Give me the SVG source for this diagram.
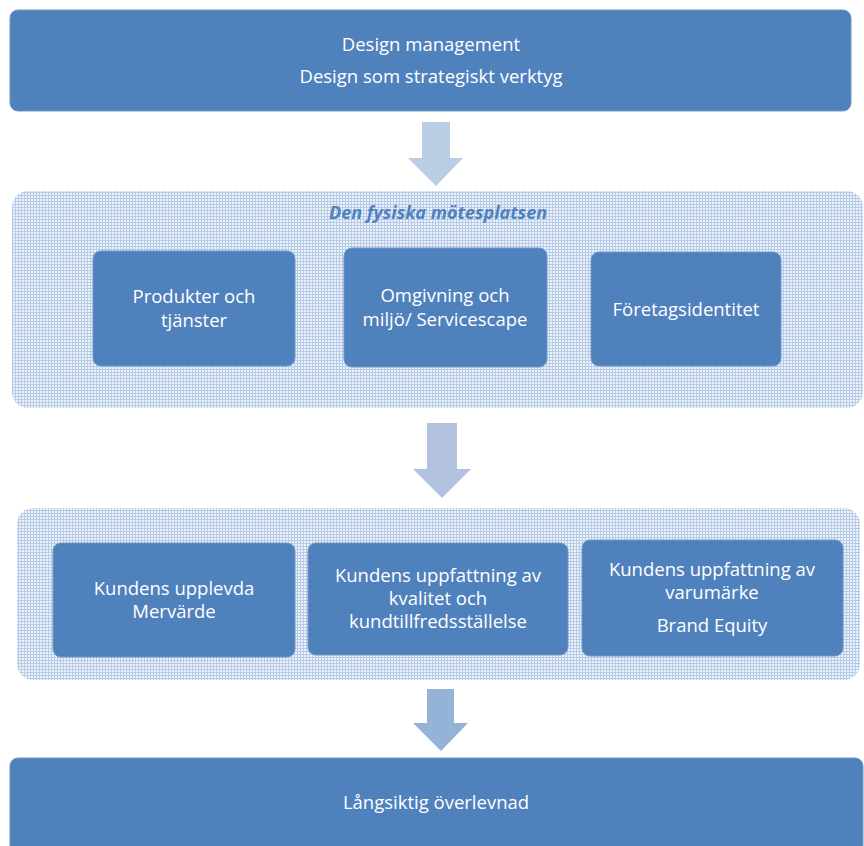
<svg xmlns="http://www.w3.org/2000/svg" width="864" height="846" viewBox="0 0 864 846">
  <defs>
    <!-- fine dotted grid used for the two grouping panels -->
    <pattern id="dots" x="0" y="0" width="3" height="3" patternUnits="userSpaceOnUse">
      <rect width="3" height="3" fill="#edf2f9"/>
      <rect x="0" y="0" width="3" height="1" fill="#b6cbe7"/>
      <rect x="0" y="0" width="1" height="3" fill="#b6cbe7"/>
    </pattern>
  </defs>
  <style>
    .box { fill: #4f81bd; stroke: #6f97c9; stroke-width: 1; }
    .panel { fill: url(#dots); }
    .lbl { font-family: "Open Sans", Lato, "Liberation Sans", sans-serif; font-size: 18.5px; fill: #ffffff; text-anchor: middle; }
    .title { font-family: "Open Sans", Lato, "Liberation Sans", sans-serif; font-size: 18px; font-weight: bold; font-style: italic; fill: #4f81bd; text-anchor: middle; }
  </style>
  <rect width="864" height="846" fill="#ffffff"/>

  <!-- grouping panels -->
  <g id="panel-fysiska">
    <rect class="panel" x="12" y="191" width="851" height="217" rx="16"/>
    <text class="title" x="438" y="219">Den fysiska mötesplatsen</text>
  </g>
  <g id="panel-kund">
    <rect class="panel" x="17" y="508" width="843" height="172" rx="16"/>
  </g>

  <!-- connectors -->
  <g id="connectors">
    <polygon points="422,122 450,122 450,158 463,158 436,186 408,158 422,158" fill="#b9cde5"/>
    <polygon points="427,423 457,423 457,469 471,469 442,498 413,469 427,469" fill="#b3c3df"/>
    <polygon points="427,689 454,689 454,723 468,723 441,751 413,723 427,723" fill="#95b3d7"/>
  </g>

  <g id="design-management">
    <rect class="box" x="10" y="10" width="841" height="101" rx="8"/>
    <text class="lbl" x="431" y="51">Design management</text>
    <text class="lbl" x="431" y="83">Design som strategiskt verktyg</text>
  </g>

  <g id="produkter">
    <rect class="box" x="93" y="251" width="202" height="115" rx="8"/>
    <text class="lbl" x="194" y="303">Produkter och</text>
    <text class="lbl" x="194" y="327">tjänster</text>
  </g>

  <g id="omgivning">
    <rect class="box" x="344" y="248" width="203" height="119" rx="8"/>
    <text class="lbl" x="445" y="302">Omgivning och</text>
    <text class="lbl" x="445" y="326">miljö/ Servicescape</text>
  </g>

  <g id="foretagsidentitet">
    <rect class="box" x="591" y="252" width="190" height="114" rx="8"/>
    <text class="lbl" x="686" y="316">Företagsidentitet</text>
  </g>

  <g id="mervarde">
    <rect class="box" x="53" y="543" width="242" height="114" rx="8"/>
    <text class="lbl" x="174" y="595">Kundens upplevda</text>
    <text class="lbl" x="174" y="618">Mervärde</text>
  </g>

  <g id="kvalitet">
    <rect class="box" x="308" y="543" width="260" height="112" rx="8"/>
    <text class="lbl" x="438" y="582">Kundens uppfattning av</text>
    <text class="lbl" x="438" y="605">kvalitet och</text>
    <text class="lbl" x="438" y="628">kundtillfredsställelse</text>
  </g>

  <g id="varumarke">
    <rect class="box" x="582" y="540" width="261" height="116" rx="8"/>
    <text class="lbl" x="712" y="576">Kundens uppfattning av</text>
    <text class="lbl" x="712" y="599">varumärke</text>
    <text class="lbl" x="712" y="632">Brand Equity</text>
  </g>

  <g id="overlevnad">
    <rect class="box" x="10" y="758" width="853" height="100" rx="8"/>
    <text class="lbl" x="436" y="809">Långsiktig överlevnad</text>
  </g>
</svg>
